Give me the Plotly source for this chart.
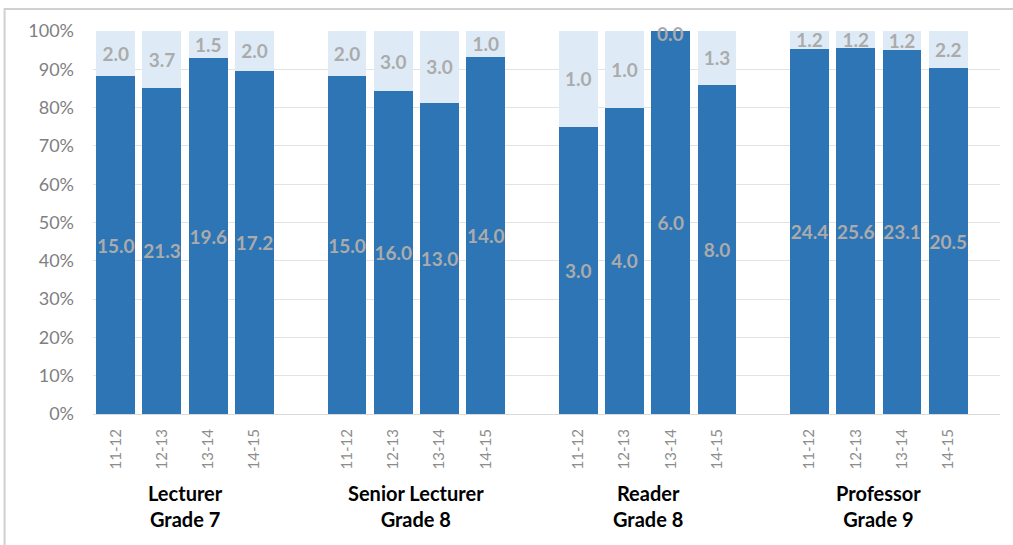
import plotly.graph_objects as go

# Staff counts per grade and academic year
groups = ["Lecturer<br>Grade 7", "Senior Lecturer<br>Grade 8", "Reader<br>Grade 8", "Professor<br>Grade 9"]
years = ["11-12", "12-13", "13-14", "14-15"]

main_counts = [
    [15.0, 21.3, 19.6, 17.2],
    [15.0, 16.0, 13.0, 14.0],
    [3.0, 4.0, 6.0, 8.0],
    [24.4, 25.6, 23.1, 20.5],
]
other_counts = [
    [2.0, 3.7, 1.5, 2.0],
    [2.0, 3.0, 3.0, 1.0],
    [1.0, 1.0, 0.0, 1.3],
    [1.2, 1.2, 1.2, 2.2],
]

DARK = "#2E75B6"
LIGHT = "#DEEBF7"
LABEL = "#ABABAB"
FONT = "Lato, 'Open Sans', sans-serif"
LABEL_SIZE = 19

# one slot per bar, with an empty slot between grade groups
xpos, ylab, main_vals, other_vals = [], [], [], []
for g in range(len(groups)):
    for k, yr in enumerate(years):
        xpos.append(g * (len(years) + 1) + k)
        ylab.append(yr)
        main_vals.append(main_counts[g][k])
        other_vals.append(other_counts[g][k])

label_font = dict(color=LABEL, size=LABEL_SIZE, family=FONT, weight="bold")

fig = go.Figure()
fig.add_trace(go.Bar(
    x=xpos, y=main_vals, width=0.84,
    marker=dict(color=DARK, line=dict(width=0)),
    text=[f"{v:.1f}" for v in main_vals], texttemplate="%{text}",
    textposition="inside", insidetextanchor="middle", textangle=0,
    textfont=label_font, hoverinfo="skip",
))
fig.add_trace(go.Bar(
    x=xpos, y=other_vals, width=0.84,
    marker=dict(color=LIGHT, line=dict(width=0)),
    text=[f"{v:.1f}" if v > 0 else "" for v in other_vals], texttemplate="%{text}",
    textposition="inside", insidetextanchor="middle", textangle=0,
    textfont=label_font, hoverinfo="skip",
))

# zero-size segments: place their label at the top of the stack
for x, v in zip(xpos, other_vals):
    if v == 0:
        fig.add_annotation(x=x, y=100, yref="y", text=f"{v:.1f}", showarrow=False,
                           yanchor="middle", yshift=-2, font=label_font)

# grade group labels beneath the year ticks
for g, name in enumerate(groups):
    centre = g * (len(years) + 1) + (len(years) - 1) / 2
    fig.add_annotation(x=centre, xref="x", y=-0.24, yref="paper", text=name,
                       showarrow=False, yanchor="middle", align="center",
                       font=dict(color="black", size=20, family=FONT, weight="bold"))

# chart frame
fig.add_shape(type="rect", xref="paper", yref="paper",
              x0=-0.0975, x1=1.05, y0=-0.5, y1=1.0575,
              line=dict(color="#D0D0D0", width=2), layer="above")

fig.update_layout(
    barmode="stack", barnorm="percent",
    width=1013, height=545,
    margin=dict(l=93, r=13, t=31, b=131),
    paper_bgcolor="white", plot_bgcolor="white",
    showlegend=False,
    font=dict(family=FONT),
    uniformtext=dict(mode="show", minsize=LABEL_SIZE),
)
fig.update_xaxes(
    range=[-0.49, 19.12], tickmode="array", tickvals=xpos, ticktext=ylab,
    tickangle=-90, tickfont=dict(color="#8C8C8C", size=15, family=FONT),
    showgrid=False, zeroline=False, showline=True, linecolor="#D9D9D9",
    ticks="", ticklabelstandoff=8,
)
fig.update_yaxes(
    range=[0, 100], tickvals=list(range(0, 101, 10)),
    ticktext=[f"{v}%" for v in range(0, 101, 10)],
    tickfont=dict(color="#7F7F7F", size=18, family=FONT),
    showgrid=True, gridcolor="#E3E3E3", gridwidth=1, zeroline=False,
    showline=False, ticks="", ticklabelstandoff=18,
)

fig.write_html("out.html")
